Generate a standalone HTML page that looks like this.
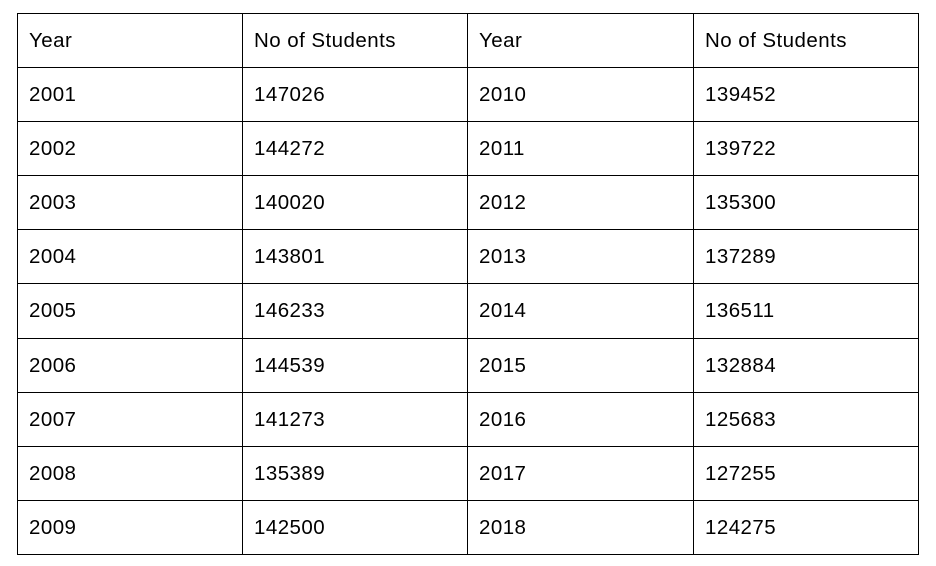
<!DOCTYPE html>
<html><head><meta charset="utf-8"><style>
html,body{margin:0;padding:0;background:#fff;width:936px;height:566px;overflow:hidden}
body{position:relative;font-family:"Liberation Sans",Arial,sans-serif;font-size:20.5px;letter-spacing:0.45px;color:#000}
.h{position:absolute;height:1px;background:#000;left:17px;width:902px}
.v{position:absolute;width:1px;background:#000;top:13px;height:542px}
.c{position:absolute;height:54px;line-height:54px;white-space:nowrap}
</style></head><body>
<div id="t"></div>
<script>
const years1=["2001","2002","2003","2004","2005","2006","2007","2008","2009"];
const vals1=["147026","144272","140020","143801","146233","144539","141273","135389","142500"];
const years2=["2010","2011","2012","2013","2014","2015","2016","2017","2018"];
const vals2=["139452","139722","135300","137289","136511","132884","125683","127255","124275"];
const headers=["Year","No of Students","Year","No of Students"];
const rowsY=[13,67,121,175,229,283,338,392,446,500,554];
const colsX=[17,242,467,693,918];
const t=document.getElementById('t');
rowsY.forEach(y=>{const d=document.createElement('div');d.className='h';d.style.top=y+'px';


t.appendChild(d);});
colsX.forEach(x=>{const d=document.createElement('div');d.className='v';d.style.left=x+'px';


t.appendChild(d);});
function cell(txt,ci,ri,name){const d=document.createElement('div');d.className='c';
d.style.left=(colsX[ci]+12)+'px';d.style.top=(rowsY[ri]+1)+'px';d.textContent=txt;


t.appendChild(d);}
headers.forEach((h,i)=>cell(h,i,0,'header-cell'));
for(let i=0;i<9;i++){cell(years1[i],0,i+1,'year-cell');cell(vals1[i],1,i+1,'students-cell');
cell(years2[i],2,i+1,'year-cell');cell(vals2[i],3,i+1,'students-cell');}
</script>
</body></html>
